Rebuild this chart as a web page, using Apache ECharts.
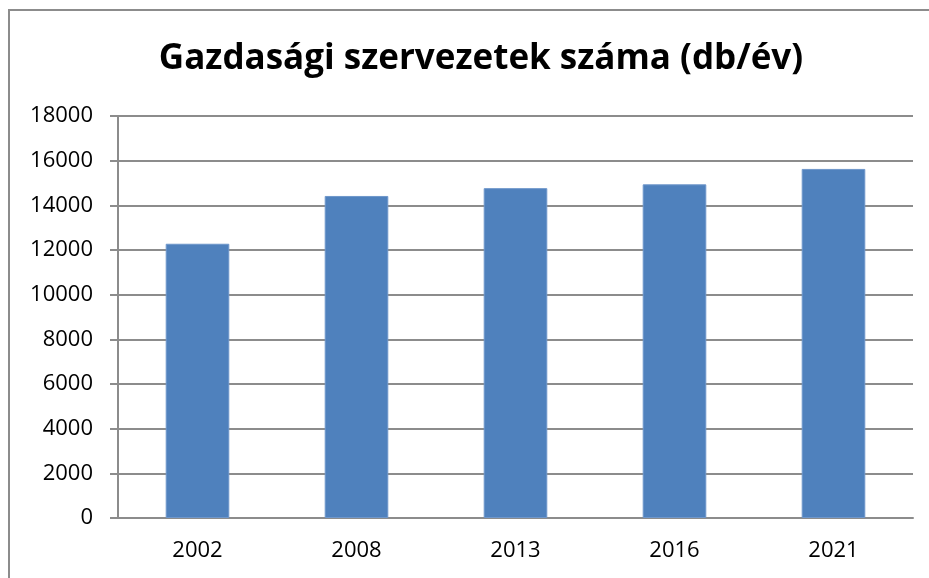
<!DOCTYPE html>
<html>
<head>
<meta charset="utf-8">
<script src="https://cdn.jsdelivr.net/npm/echarts@6/dist/echarts.min.js"></script>
<style>
  html, body { margin: 0; padding: 0; background: #fff; }
  #chart { width: 929px; height: 578px; }
</style>
</head>
<body>
<div id="chart"></div>
<script>
// evek es ertekek (db/ev)
var years = ['2002', '2008', '2013', '2016', '2021'];
var counts = [12280, 14420, 14770, 14940, 15630];
var yTicks = { min: 0, max: 18000, step: 2000 };

var gray = '#8c8c8c';
var my_chart = echarts.init(document.getElementById('chart'));

var option = {
    animation: false,
    graphic: [{
        type: 'rect',
        shape: { x: 9, y: 10, width: 1000, height: 1000 },
        style: { fill: 'none', stroke: gray, lineWidth: 2 }
    }],
    title: {
        text: 'Gazdasági szervezetek száma (db/év)',
        left: 476,
        top: 37,
        textAlign: 'center',
        textStyle: {
            fontFamily: 'Open Sans',
            fontWeight: 'bold',
            fontSize: 35,
            color: '#000'
        }
    },
    grid: { left: 118, right: 16, top: 116, bottom: 60 },
    xAxis: {
        type: 'category',
        data: years,
        axisLine: { lineStyle: { color: gray, width: 2 } },
        axisTick: { length: 8, lineStyle: { color: gray, width: 2 } },
        axisLabel: { margin: 22, fontFamily: 'Open Sans', fontSize: 22, color: '#000' }
    },
    yAxis: {
        type: 'value',
        min: yTicks.min,
        max: yTicks.max,
        interval: yTicks.step,
        axisLine: { show: true, lineStyle: { color: gray, width: 2 } },
        axisTick: { show: true, length: 8, lineStyle: { color: gray, width: 2 } },
        splitLine: { lineStyle: { color: gray, width: 2 } },
        axisLabel: {
            margin: 25, fontFamily: 'Open Sans', fontSize: 22, color: '#000',
            formatter: function (v) { return String(v); }
        }
    },
    series: [{
        type: 'bar',
        data: counts,
        barWidth: '40%',
        itemStyle: { color: '#4f81bd', borderColor: '#6f97cb', borderWidth: 1 }
    }]
};

my_chart.setOption(option);
</script>
</body>
</html>
